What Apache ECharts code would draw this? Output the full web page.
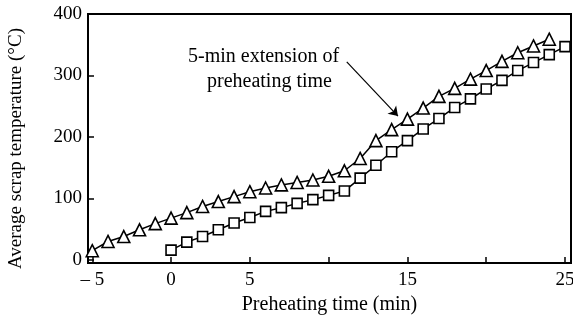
<!DOCTYPE html>
<html>
<head>
<meta charset="utf-8">
<script src="https://cdn.jsdelivr.net/npm/echarts@6/dist/echarts.min.js"></script>
<style>
  html, body { margin: 0; padding: 0; background: #fff; }
  #chart { width: 573px; height: 321px; }
</style>
</head>
<body>
<div id="chart"></div>
<script>
// minutes of preheating and average scrap temperature (°C)
const extendedTimes = [-5, -4, -3, -2, -1, 0, 1, 2, 3, 4, 5, 6, 7, 8, 9, 10, 11, 12, 13, 14, 15, 16, 17, 18, 19, 20, 21, 22, 23, 24];
const extendedTemps = [15, 30, 38, 49, 59, 68, 77, 87, 95, 103, 111, 117, 122, 126, 130, 136, 145, 165, 194, 212, 229, 247, 266, 279, 294, 308, 323, 337, 348, 359];
const normalTimes = [0, 1, 2, 3, 4, 5, 6, 7, 8, 9, 10, 11, 12, 13, 14, 15, 16, 17, 18, 19, 20, 21, 22, 23, 24, 25];
const normalTemps = [16, 29, 38, 49, 60, 69, 79, 85, 92, 98, 105, 112, 133, 154, 176, 194, 213, 230, 248, 262, 278, 292, 308, 321, 334, 347];
const xTicks = [-5, 0, 5, 10, 15, 20, 25];
const xLabels = [-5, 0, 5, 15, 25];
const yTicks = [0, 100, 200, 300, 400];
// annotation arrow, in data units
const arrowFrom = [11.15, 322];
const arrowTo = [14.4, 234];

const chart = echarts.init(document.getElementById('chart'));
const font = 'Liberation Serif';

const pair = (xs, ys) => xs.map((x, i) => [x, ys[i]]);

const lineStyle = { color: '#000', width: 1.5 };
const itemStyle = { color: '#fff', borderColor: '#000', borderWidth: 1.6 };

chart.setOption({
  animation: false,
  grid: {
    left: 88, right: 2, top: 14, bottom: 58,
    outerBoundsMode: 'none', containLabel: false,
    show: true, borderColor: '#000', borderWidth: 2
  },
  xAxis: {
    type: 'value',
    min: -5.27, max: 25.38,
    name: 'Preheating time (min)',
    nameLocation: 'middle',
    nameGap: 27,
    nameTextStyle: { fontFamily: font, fontSize: 20, color: '#000' },
    axisLine: { onZero: false, lineStyle: { color: '#000', width: 2 } },
    axisTick: { inside: true, length: 6, customValues: xTicks, lineStyle: { color: '#000', width: 1.5 } },
    axisLabel: {
      customValues: xLabels, margin: 8,
      fontFamily: font, fontSize: 19, color: '#000',
      formatter: (v) => (v < 0 ? '\u2013 ' + Math.abs(v) : String(v))
    },
    splitLine: { show: false }
  },
  yAxis: {
    type: 'value',
    min: -5, max: 400,
    name: 'Average scrap temperature (\u00b0C)',
    nameLocation: 'middle',
    nameGap: 62,
    nameTextStyle: { fontFamily: font, fontSize: 19, color: '#000', padding: [0, 20, 0, 0] },
    axisLine: { onZero: false, lineStyle: { color: '#000', width: 2 } },
    axisTick: { inside: true, length: 6, customValues: yTicks, lineStyle: { color: '#000', width: 1.5 } },
    axisLabel: { customValues: yTicks, margin: 6, fontFamily: font, fontSize: 19, color: '#000' },
    splitLine: { show: false }
  },
  graphic: [
    {
      type: 'text', left: 188, top: 47,
      style: { text: '5-min extension of', font: '20px "Liberation Serif"', fill: '#000' }
    },
    {
      type: 'text', left: 207, top: 72,
      style: { text: 'preheating time', font: '20px "Liberation Serif"', fill: '#000' }
    }
  ],
  series: [
    {
      type: 'line',
      data: pair(extendedTimes, extendedTemps),
      symbol: 'triangle', symbolSize: 12,
      lineStyle, itemStyle,
      markLine: {
        silent: true,
        symbol: ['none', 'arrow'], symbolSize: 9,
        lineStyle: { color: '#000', width: 1.2, type: 'solid' },
        label: { show: false },
        data: [[{ coord: arrowFrom }, { coord: arrowTo }]]
      }
    },
    {
      type: 'line',
      data: pair(normalTimes, normalTemps),
      symbol: 'rect', symbolSize: 10,
      lineStyle, itemStyle
    }
  ]
});
</script>
</body>
</html>
